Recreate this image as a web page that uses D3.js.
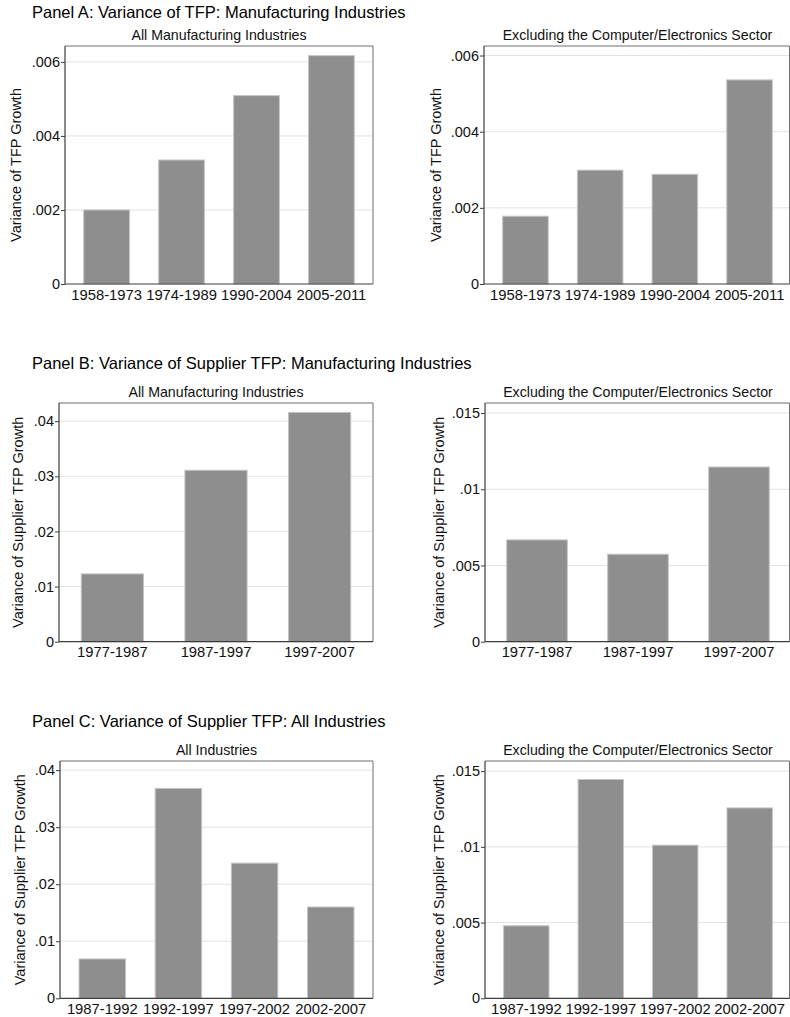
<!DOCTYPE html>
<meta charset="utf-8">
<style>
  body { margin: 0; background: #fff; }
  svg { display: block; font-family: "Liberation Sans", Arial, Helvetica, sans-serif; }
  .grid line { stroke: #e2e2e2; }
</style>
<script src="https://d3js.org/d3.v7.min.js"></script>
<svg width="790" height="1017"></svg>
<script>
const svg = d3.select('svg');

// panel A: TFP variance, manufacturing
const periodsA = ['1958-1973', '1974-1989', '1990-2004', '2005-2011'];
const tfpAll = [0.0020, 0.00335, 0.00509, 0.00617];
const tfpExcl = [0.00178, 0.00299, 0.00288, 0.00536];
const ticksA = [0, 0.002, 0.004, 0.006];

// panel B: supplier TFP variance, manufacturing
const periodsB = ['1977-1987', '1987-1997', '1997-2007'];
const supMfgAll = [0.0123, 0.0311, 0.0416];
const supMfgExcl = [0.00668, 0.00574, 0.01146];
const ticksBAll = [0, 0.01, 0.02, 0.03, 0.04];
const ticksBExcl = [0, 0.005, 0.01, 0.015];

// panel C: supplier TFP variance, all industries
const periodsC = ['1987-1992', '1992-1997', '1997-2002', '2002-2007'];
const supAll = [0.0069, 0.0368, 0.0237, 0.0160];
const supAllExcl = [0.00479, 0.01445, 0.01011, 0.01257];
const ticksCAll = [0, 0.01, 0.02, 0.03, 0.04];
const ticksCExcl = [0, 0.005, 0.01, 0.015];

const panelTitles = [
  'Panel A: Variance of TFP: Manufacturing Industries',
  'Panel B: Variance of Supplier TFP: Manufacturing Industries',
  'Panel C: Variance of Supplier TFP: All Industries'
];

const fmt = v => v === 0 ? '0' : String(v).replace(/^0/, '');

function drawPanel(o) {
  const g = svg.append('g');
  const y = d3.scaleLinear().domain([0, o.ymax]).range([o.y1, o.y0]);
  const pi = o.cats.length === 3 ? 0.4 : 0.39;
  const po = o.cats.length === 3 ? 0.215 : 0.25;
  const x = d3.scaleBand().domain(o.cats).range([o.x0, o.x1]).paddingInner(pi).paddingOuter(po);
  const right = Math.min(o.x1, 789.5);

  // grid
  g.append('g').attr('class', 'grid')
    .selectAll('line').data(o.ticks.filter(t => t > 0)).join('line')
    .attr('x1', o.x0).attr('x2', right)
    .attr('y1', d => y(d)).attr('y2', d => y(d));

  // frame top/right
  g.append('path')
    .attr('d', `M${o.x0},${o.y0}H${right}V${o.y1}`)
    .attr('fill', 'none').attr('stroke', '#6f6f6f');

  // bars
  g.selectAll('rect.bar').data(o.vals).join('rect')
    .attr('class', 'bar')
    .attr('x', (d, i) => x(o.cats[i]))
    .attr('width', x.bandwidth())
    .attr('y', d => y(d))
    .attr('height', d => o.y1 - y(d))
    .attr('fill', '#8e8e8e')
    .attr('stroke', '#c4c4c4')
    .attr('stroke-width', 1);

  // y axis
  const ya = g.append('g')
    .attr('transform', `translate(${o.x0},0)`)
    .call(d3.axisLeft(y).tickValues(o.ticks).tickFormat(fmt).tickSize(4).tickPadding(1));
  ya.select('.domain').remove();
  ya.append('line').attr('y1', o.y0).attr('y2', o.y1).attr('stroke', '#3c3c3c').attr('stroke-width', 1.2);
  ya.selectAll('.tick line').attr('stroke', '#3c3c3c');
  ya.selectAll('.tick text').attr('fill', '#111').style('font-size', '14.5px').style('font-family', null);

  // x axis
  const xa = g.append('g')
    .attr('transform', `translate(0,${o.y1})`)
    .call(d3.axisBottom(x).tickSize(0).tickPadding(5));
  xa.select('.domain').attr('d', `M${o.x0},0H${right}`).attr('stroke', '#3c3c3c').attr('stroke-width', 1.2);
  xa.selectAll('.tick text').attr('fill', '#111').style('font-size', '14.8px').style('font-family', null);

  // subtitle
  g.append('text')
    .attr('x', (o.x0 + o.x1) / 2).attr('y', o.y0 - 6)
    .attr('text-anchor', 'middle')
    .style('font-size', '14.2px').attr('fill', '#111')
    .text(o.subtitle);

  // y title
  g.append('text')
    .attr('transform', `translate(${o.ytx},${(o.y0 + o.y1) / 2}) rotate(-90)`)
    .attr('text-anchor', 'middle')
    .attr('dominant-baseline', 'central')
    .style('font-size', '14.5px').attr('fill', '#111')
    .text(o.ytitle);
}

const titleY = [18, 369, 727];
panelTitles.forEach((t, i) => {
  svg.append('text').attr('x', 32).attr('y', titleY[i])
    .style('font-size', '16.5px').attr('fill', '#000').text(t);
});

const subAll = 'All Manufacturing Industries';
const subExcl = 'Excluding the Computer/Electronics Sector';

drawPanel({ x0: 65, x1: 373, y0: 46, y1: 284, ymax: 0.00643, cats: periodsA, vals: tfpAll, ticks: ticksA,
  subtitle: subAll, ytitle: 'Variance of TFP Growth', ytx: 16 });
drawPanel({ x0: 484, x1: 791, y0: 46, y1: 284, ymax: 0.00625, cats: periodsA, vals: tfpExcl, ticks: ticksA,
  subtitle: subExcl, ytitle: 'Variance of TFP Growth', ytx: 436 });

drawPanel({ x0: 59, x1: 373, y0: 403, y1: 641.7, ymax: 0.0433, cats: periodsB, vals: supMfgAll, ticks: ticksBAll,
  subtitle: subAll, ytitle: 'Variance of Supplier TFP Growth', ytx: 17.5 });
drawPanel({ x0: 485, x1: 791, y0: 403, y1: 641.7, ymax: 0.01566, cats: periodsB, vals: supMfgExcl, ticks: ticksBExcl,
  subtitle: subExcl, ytitle: 'Variance of Supplier TFP Growth', ytx: 439 });

drawPanel({ x0: 60, x1: 373, y0: 761, y1: 998.3, ymax: 0.0416, cats: periodsC, vals: supAll, ticks: ticksCAll,
  subtitle: 'All Industries', ytitle: 'Variance of Supplier TFP Growth', ytx: 19.5 });
drawPanel({ x0: 485, x1: 791, y0: 761, y1: 998.3, ymax: 0.01567, cats: periodsC, vals: supAllExcl, ticks: ticksCExcl,
  subtitle: subExcl, ytitle: 'Variance of Supplier TFP Growth', ytx: 439 });
</script>
